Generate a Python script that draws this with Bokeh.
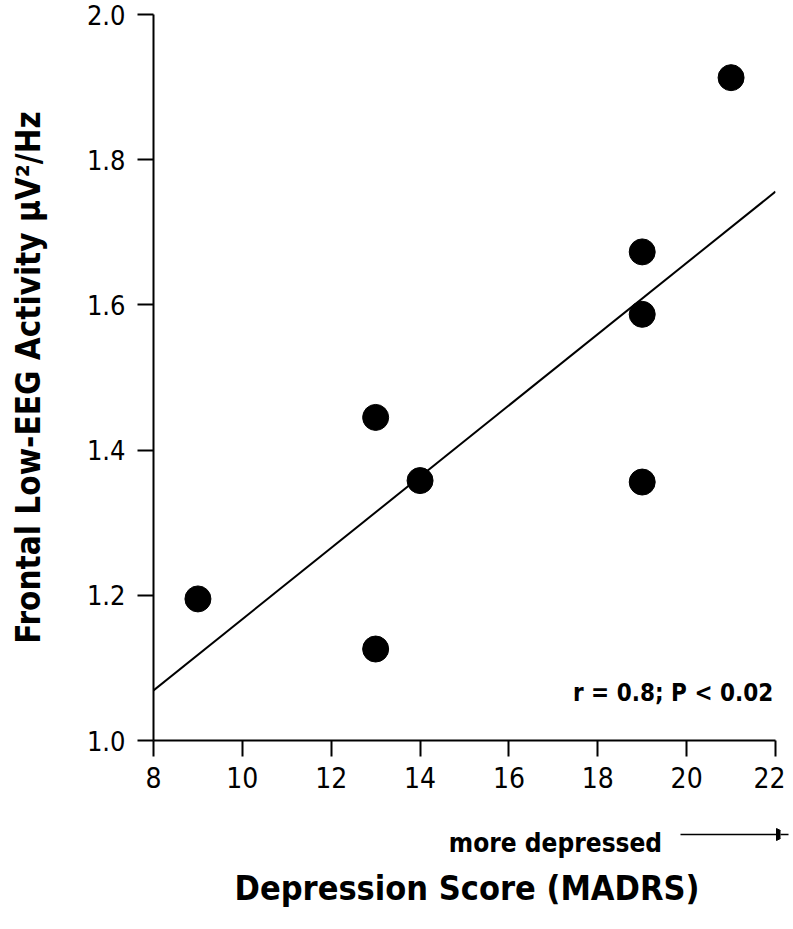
from bokeh.plotting import figure
from bokeh.layouts import column
from bokeh.models import Range1d, FixedTicker, Label, Arrow, NormalHead
from bokeh.embed import file_html
from bokeh.resources import INLINE

# Data
madrs = [9, 13, 13, 14, 19, 19, 19, 21]
eeg = [1.195, 1.445, 1.126, 1.358, 1.673, 1.587, 1.356, 1.913]
fit_x = [8, 22]
fit_y = [1.069, 1.756]
x_ticks = [8, 10, 12, 14, 16, 18, 20, 22]
y_ticks = [1.0, 1.2, 1.4, 1.6, 1.8, 2.0]

FONT = "DejaVu Sans Condensed"
W = 785
LEFT = 153
RIGHT = 10
FRAME_W = W - LEFT - RIGHT

# ---------- main plot ----------
p = figure(width=W, height=800, output_backend="svg", toolbar_location=None,
           x_range=Range1d(8, 22), y_range=Range1d(1.0, 2.0),
           min_border_left=LEFT, min_border_right=RIGHT, min_border_top=14,
           min_border_bottom=60)
p.outline_line_color = None
p.grid.visible = False

for ax in (p.xaxis[0], p.yaxis[0]):
    ax.axis_line_color = "black"
    ax.axis_line_width = 2
    ax.major_tick_line_color = "black"
    ax.major_tick_line_width = 2
    ax.minor_tick_line_color = None
    ax.major_tick_in = 0
    ax.major_tick_out = 16
    ax.major_label_text_font = FONT
    ax.major_label_text_color = "black"
    ax.axis_label_text_font = FONT
    ax.axis_label_text_font_style = "bold"
    ax.axis_label_text_color = "black"

p.xaxis.ticker = FixedTicker(ticks=x_ticks)
p.yaxis.ticker = FixedTicker(ticks=y_ticks)
p.xaxis.major_label_overrides = {t: str(t) for t in x_ticks}
p.yaxis.major_label_overrides = {t: f"{t:.1f}" for t in y_ticks}
p.xaxis.major_label_text_font_size = "28px"
p.yaxis.major_label_text_font_size = "27px"
p.xaxis.major_label_standoff = 10
p.yaxis.major_label_standoff = 12
p.yaxis.axis_label = "Frontal Low-EEG Activity \u00b5V\u00b2/Hz"
p.yaxis.axis_label_text_font_size = "33px"
p.yaxis.axis_label_standoff = 36

p.line(fit_x, fit_y, line_color="black", line_width=2)
p.scatter(madrs, eeg, size=26, fill_color="black", line_color="black")

p.add_layout(Label(x=21.95, y=1.065, text="r = 0.8; P < 0.02", text_align="right",
                   text_baseline="alphabetic", text_font=FONT, text_font_style="bold",
                   text_font_size="24px", text_color="black"))

# ---------- strip below: direction note and x-axis title ----------
W2 = 790
extra = (W2 - LEFT - FRAME_W) * (22 - 8) / FRAME_W   # keep the same x scale
q = figure(width=W2, height=115, output_backend="svg", toolbar_location=None,
           x_range=Range1d(8, 22 + extra), y_range=Range1d(0, 1),
           min_border_left=LEFT, min_border_right=0, min_border_top=0,
           min_border_bottom=50)
q.outline_line_color = None
q.grid.visible = False
q.yaxis.visible = False
xa = q.xaxis[0]
xa.ticker = FixedTicker(ticks=[])
xa.axis_line_color = None
xa.major_tick_line_color = None
xa.minor_tick_line_color = None
xa.major_label_standoff = 0
xa.axis_label = "Depression Score (MADRS)"
xa.axis_label_text_font = FONT
xa.axis_label_text_font_style = "bold"
xa.axis_label_text_font_size = "34px"
xa.axis_label_text_color = "black"
xa.axis_label_standoff = 2
xa.axis_label_text_align = "center"

q.add_layout(Label(x=19.63, y=23, y_units="screen", text="more depressed",
                   text_align="right", text_baseline="alphabetic", text_font=FONT,
                   text_font_style="bold", text_font_size="26px", text_color="black"))
# arrow: screen units measured from the strip's frame bottom-left corner
q.add_layout(Arrow(x_start=527, y_start=31, x_end=635, y_end=31,
                   start_units="screen", end_units="screen",
                   line_color="black", line_width=1.5,
                   end=NormalHead(size=12, fill_color="black", line_color="black")))

layout = column(p, q, spacing=0)
open("out.html", "w").write(file_html(layout, INLINE))
